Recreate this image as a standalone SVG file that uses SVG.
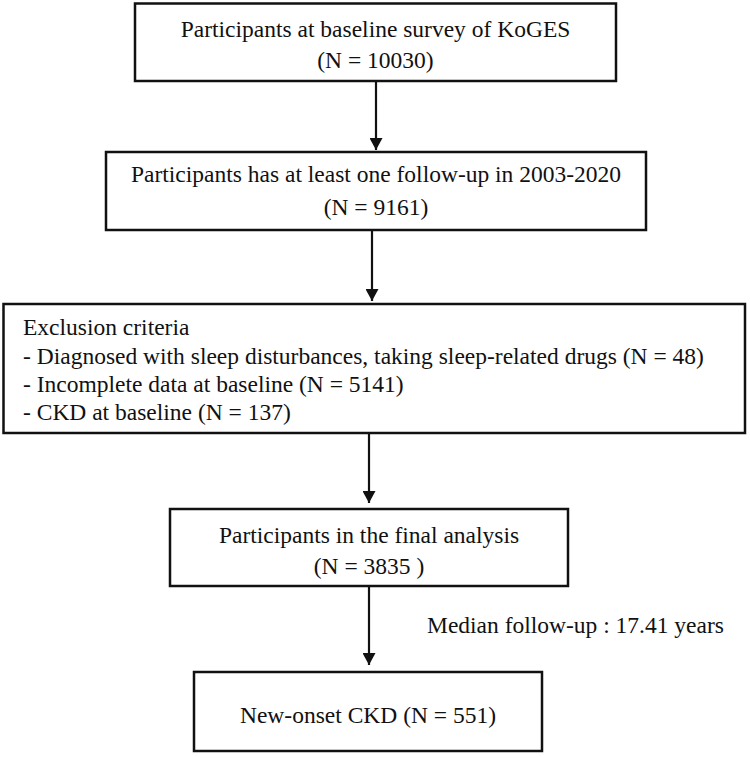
<svg xmlns="http://www.w3.org/2000/svg" width="750" height="758" viewBox="0 0 750 758">
<defs>
<style>
.box{fill:#fff;stroke:#111;stroke-width:2.5}
.t{font-family:"Liberation Serif","Times New Roman",serif;font-size:23.5px;fill:#111}
.c{text-anchor:middle}
.conn{stroke:#111;stroke-width:2.2;fill:none;marker-end:url(#ah)}
</style>
<marker id="ah" markerUnits="userSpaceOnUse" markerWidth="13" markerHeight="13" refX="12" refY="6.5" orient="auto">
<path d="M0,0 L12,6.5 L0,13 z" fill="#111"/>
</marker>
</defs>
<rect width="750" height="758" fill="#fff"/>
<g id="connectors">
<line class="conn" x1="376" y1="81" x2="376" y2="150"/>
<line class="conn" x1="372" y1="230" x2="372" y2="301"/>
<line class="conn" x1="369" y1="433" x2="369" y2="503"/>
<line class="conn" x1="369" y1="586" x2="369" y2="665"/>
</g>
<g id="n1">
<rect class="box" x="135" y="3.5" width="481" height="77.5"/>
<text class="t c" x="375.5" y="37">Participants at baseline survey of KoGES</text>
<text class="t c" x="375.5" y="68">(N = 10030)</text>
</g>
<g id="n2">
<rect class="box" x="106" y="152" width="540" height="78"/>
<text class="t c" x="376" y="182">Participants has at least one follow-up in 2003-2020</text>
<text class="t c" x="376" y="215">(N = 9161)</text>
</g>
<g id="n3">
<rect class="box" x="3.5" y="304" width="741.5" height="129"/>
<text class="t" x="23" y="335">Exclusion criteria</text>
<text class="t" x="23" y="364">- Diagnosed with sleep disturbances, taking sleep-related drugs (N = 48)</text>
<text class="t" x="23" y="392">- Incomplete data at baseline (N = 5141)</text>
<text class="t" x="23" y="420">- CKD at baseline (N = 137)</text>
</g>
<g id="n4">
<rect class="box" x="170" y="509" width="398" height="77"/>
<text class="t c" x="369" y="543">Participants in the final analysis</text>
<text class="t c" x="369" y="574">(N = 3835 )</text>
</g>
<g id="label">
<text class="t" x="427" y="633">Median follow-up : 17.41 years</text>
</g>
<g id="n5">
<rect class="box" x="194" y="672" width="348" height="79"/>
<text class="t c" x="368" y="723">New-onset CKD (N = 551)</text>
</g>
</svg>
